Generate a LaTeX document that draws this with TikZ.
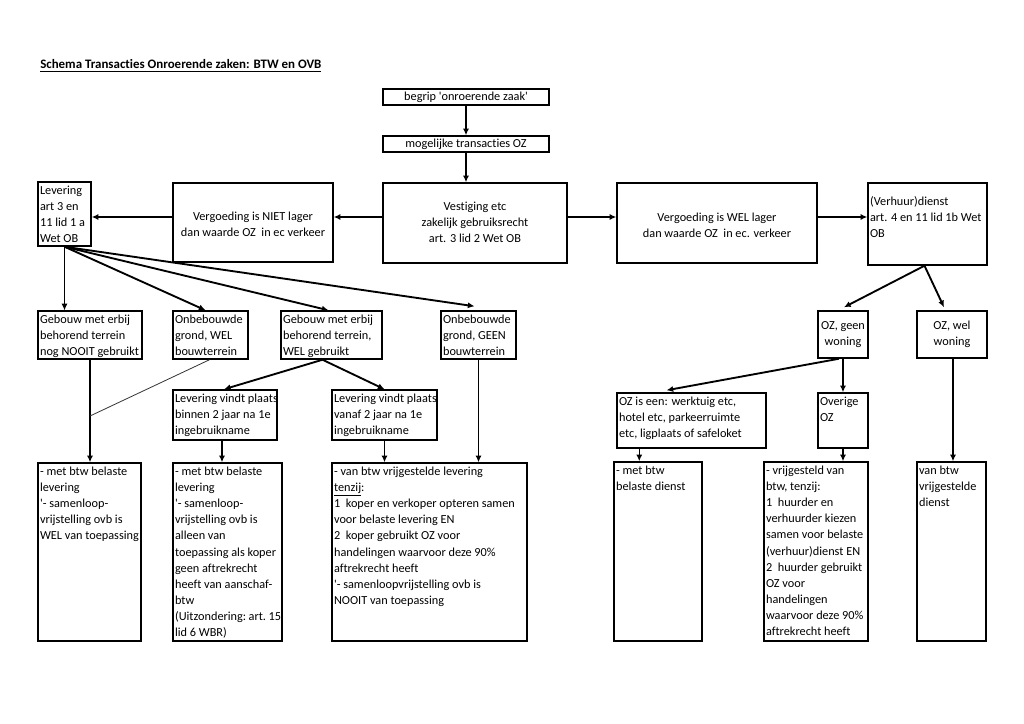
\documentclass[tikz,border=0pt]{standalone}
\usepackage{fontspec}
\setmainfont{Carlito}[Ligatures={TeX,NoCommon}]
\usetikzlibrary{fit,arrows.meta,calc}
\newcommand\myfs{\fontsize{9.2}{12.05}\selectfont}
\begin{document}
\begin{tikzpicture}[x=0.75pt,y=-0.75pt,
  bx/.style={draw, line width=1.1pt, inner sep=0pt},
  tx/.style={anchor=north west, align=left, inner xsep=1.9pt, inner ysep=3.5pt, font=\myfs},
  cx/.style={align=center, inner sep=0pt, font=\myfs},
  tip/.style={-{Latex[length=5pt,width=4.6pt]}},
  thk/.style={tip, line width=1.4pt},
  med/.style={tip, line width=1.1pt},
  thn/.style={tip, line width=0.7pt},
  plain/.style={line width=0.6pt, draw=black!80}
]
\useasboundingbox (0,0) rectangle (1024,724);
\fill[white] (0,0) rectangle (1024,724);

% title
\node[anchor=base west, inner sep=0pt, font=\fontsize{9.7}{12}\selectfont\bfseries] (title) at (40,69)
  {\underline{Schema Transacties Onroerende zaken: BTW en OVB}};

% boxes
\node[bx, fit={(383,89) (549,105)}] (b1) {};
\node[bx, fit={(383,136) (549,152)}] (b2) {};
\node[bx, fit={(383,183) (567,263)}] (vest) {};
\node[bx, fit={(173,183) (333,262)}] (niet) {};
\node[bx, fit={(38,182) (91,246)}] (lev) {};
\node[bx, fit={(617,183) (817,263)}] (wel) {};
\node[bx, fit={(868,183) (987,265)}] (vh) {};
\node[bx, fit={(38,311) (142,359)}] (nooit) {};
\node[bx, fit={(173,311) (248,359)}] (owel) {};
\node[bx, fit={(281,311) (382,359)}] (gw) {};
\node[bx, fit={(441,311) (516,359)}] (geen) {};
\node[bx, fit={(818,311) (868,358)}] (gwn) {};
\node[bx, fit={(917,311) (987,358)}] (wwn) {};
\node[bx, fit={(173,390) (277,440)}] (bin) {};
\node[bx, fit={(332,390) (437,440)}] (van) {};
\node[bx, fit={(617,393) (766,448)}] (ozis) {};
\node[bx, fit={(818,393) (868,448)}] (ovr) {};
\node[bx, fit={(38,463) (141,641)}] (A) {};
\node[bx, fit={(173,463) (282,641)}] (B) {};
\node[bx, fit={(332,463) (527,641)}] (C) {};
\node[bx, fit={(614,462) (702,641)}] (D) {};
\node[bx, fit={(764,462) (868,641)}] (E) {};
\node[bx, fit={(917,462) (986,641)}] (F) {};

% centred texts
\node[cx] (tb1) at (b1) {begrip \textquotesingle onroerende zaak\textquotesingle};
\node[cx] (tb2) at (b2) {mogelijke transacties OZ};
\node[cx] (tvest) at ($(vest)+(0,-1)$) {Vestiging etc\\zakelijk gebruiksrecht\\art. 3 lid 2 Wet OB};
\node[cx] (tniet) at ($(niet)+(0,2)$) {Vergoeding is NIET lager\\dan waarde OZ\ \ in ec verkeer};
\node[cx] (twel) at ($(wel)+(0,2)$) {Vergoeding is WEL lager\\dan waarde OZ\ \ in ec. verkeer};
\node[cx] (tgwn) at (gwn) {OZ, geen\\woning};
\node[cx] (twwn) at (wwn) {OZ, wel\\woning};

% left aligned texts
\node[tx] (tlev) at (lev.north west) {Levering\\art 3 en\\11 lid 1 a\\Wet OB};
\node[tx] (tvh) at ($(vh.north west)+(0,9)$) {(Verhuur)dienst\\art. 4 en 11 lid 1b Wet\\OB};
\node[tx] (tnooit) at (nooit.north west) {Gebouw met erbij\\behorend terrein\\nog NOOIT gebruikt};
\node[tx] (towel) at (owel.north west) {Onbebouwde\\grond, WEL\\bouwterrein};
\node[tx] (tgw) at (gw.north west) {Gebouw met erbij\\behorend terrein,\\WEL gebruikt};
\node[tx] (tgeen) at (geen.north west) {Onbebouwde\\grond, GEEN\\bouwterrein};
\node[tx] (tbin) at (bin.north west) {Levering vindt plaats\\binnen 2 jaar na 1e\\ingebruikname};
\node[tx] (tvan) at (van.north west) {Levering vindt plaats\\vanaf 2 jaar na 1e\\ingebruikname};
\node[tx] (tozis) at (ozis.north west) {OZ is een: werktuig etc,\\hotel etc, parkeerruimte\\etc, ligplaats of safeloket};
\node[tx] (tovr) at (ovr.north west) {Overige\\OZ};
\node[tx] (tA) at (A.north west) {- met btw belaste\\levering\\\textquotesingle- samenloop-\\vrijstelling ovb is\\WEL van toepassing};
\node[tx] (tB) at (B.north west) {- met btw belaste\\levering\\\textquotesingle- samenloop-\\vrijstelling ovb is\\alleen van\\toepassing als koper\\geen aftrekrecht\\heeft van aanschaf-\\btw\\{\spaceskip=0.13em\relax(Uitzondering: art. 15}\\lid 6 WBR)};
\node[tx] (tC) at (C.north west) {- van btw vrijgestelde levering\\\underline{tenzij}:\\1\ \ koper en verkoper opteren samen\\voor belaste levering EN\\2\ \ koper gebruikt OZ voor\\handelingen waarvoor deze 90\%\\aftrekrecht heeft\\\textquotesingle- samenloopvrijstelling ovb is\\NOOIT van toepassing};
\node[tx] (tD) at (D.north west) {- met btw\\belaste dienst};
\node[tx] (tE) at (E.north west) {- vrijgesteld van\\btw, tenzij:\\1\ \ huurder en\\verhuurder kiezen\\samen voor belaste\\(verhuur)dienst EN\\2\ \ huurder gebruikt\\OZ voor\\handelingen\\waarvoor deze 90\%\\aftrekrecht heeft};
\node[tx] (tF) at (F.north west) {van btw\\vrijgestelde\\dienst};

% connectors top
\draw[thk] (b1.south) -- (b2.north);
\draw[thk] (b2.south) -- (b2.south |- vest.north);
\draw[thk] (vest.west |- 0,217) -- (niet.east |- 0,217);
\draw[thk] (niet.west |- 0,217) -- (lev.east |- 0,217);
\draw[thk] (vest.east |- 0,217) -- (wel.west |- 0,217);
\draw[thk] (wel.east |- 0,217) -- (vh.west |- 0,217);

% fan from Levering
\draw[thn] (lev.south) -- (lev.south |- nooit.north);
\draw[thk] (lev.south) -- ($(owel.north)+(-5,0)$);
\draw[thk] (lev.south) -- ($(gw.north)+(-3,0)$);
\draw[thk] (lev.south) -- ($(geen.north)+(-4,-4)$);

% left lower connectors
\coordinate (j1) at (90,416);
\draw[med] (nooit.south) -- (nooit.south |- A.north);
\draw[plain] ($(owel.south)+(-1,0)$) -- (j1);
\draw[thk] ($(gw.south)+(-9,0)$) -- ($(bin.north)+(-1,0)$);
\draw[thk] ($(gw.south)+(-9,0)$) -- (van.north);
\draw[med] ($(bin.south)+(-3,0)$) -- ($(bin.south |- B.north)+(-3,0)$);
\draw[med] (van.south) -- (van.south |- C.north);
\draw[med] (geen.south) -- (geen.south |- C.north);

% right side
\draw[thk] ($(vh.south)+(-3,0)$) -- ($(gwn.north)+(1,-3)$);
\draw[thk] ($(vh.south)+(-3,0)$) -- ($(wwn.north)+(-8,-3)$);
\draw[thk] ($(gwn.south)+(-4,0)$) -- ($(ozis.north)+(-25,-2)$);
\draw[med] (gwn.south) -- (ovr.north);
\draw[med] ($(wwn.south)+(1,0)$) -- ($(wwn.south |- F.north)+(1,0)$);
\draw[med] ($(ozis.south west)+(23,0)$) -- ($(ozis.south west |- D.north)+(23,0)$);
\draw[med] (ovr.south) -- (ovr.south |- E.north);
\end{tikzpicture}
\end{document}
